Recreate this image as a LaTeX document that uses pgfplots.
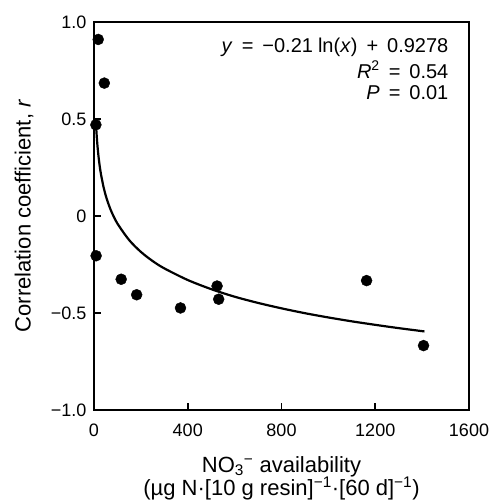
\documentclass[border=0pt]{standalone}
\usepackage{fontspec}
\setmainfont{Liberation Sans}
\usepackage{pgfplots}
\pgfplotsset{compat=1.18}

\begin{document}
\begin{tikzpicture}
% page frame: matches the reference's 490x502 canvas
\useasboundingbox (-94pt,-92pt) rectangle (396pt,410pt);
\begin{axis}[
  scale only axis,
  width=375pt,
  height=388pt,
  xmin=0, xmax=1600,
  ymin=-1, ymax=1,
  xtick={0,400,800,1200,1600},
  xticklabels={0,400,800,1200,1600},
  ytick={-1,-0.5,0,0.5,1},
  yticklabels={−1.0,−0.5,0,0.5,1.0},
  tick align=inside,
  xtick pos=bottom,
  ytick pos=left,
  major tick length=7pt,
  axis line style={line width=1.6pt},
  every tick/.style={line width=1.6pt, black},
  ticklabel style={font=\fontsize{18}{20}\selectfont},
  xticklabel style={yshift=-10pt},
  yticklabel style={xshift=-4pt},
  xlabel={NO\textsubscript{3}\textsuperscript{−} availability\\(µg N·[10 g resin]\textsuperscript{−1}·[60 d]\textsuperscript{−1})},
  xlabel style={font=\fontsize{22}{23}\selectfont, align=center, inner sep=0pt,
    at={(axis description cs:0.5,-0.1186)}, anchor=north},
  ylabel={Correlation coefficient, \textit{r}},
  ylabel style={font=\fontsize{22}{24}\selectfont, inner sep=0pt,
    at={(axis description cs:-0.1867,0.5)}, anchor=center},
  clip=false,
]

% fitted curve y = -0.21 ln(x) + 0.9278
\addplot[black, line width=2.2pt, smooth] coordinates {
  (10,0.444) (12,0.406) (15,0.359) (20,0.299) (25,0.252) (30,0.214)
  (40,0.153) (50,0.106) (60,0.068) (75,0.021) (100,-0.039) (150,-0.124)
  (200,-0.185) (250,-0.232) (300,-0.270) (400,-0.330) (500,-0.377)
  (600,-0.416) (700,-0.448) (800,-0.476) (900,-0.501) (1000,-0.523)
  (1100,-0.543) (1200,-0.561) (1300,-0.578) (1410,-0.595)
};

% observations
\addplot[only marks, mark=*, mark size=5.5pt, black] coordinates {
  (8,0.47) (18,0.91) (44,0.685) (9,-0.205) (116,-0.326) (182,-0.406)
  (369,-0.474) (525,-0.361) (532,-0.429) (1163,-0.333) (1406,-0.668)
};

% regression statistics
\node[anchor=east, font=\fontsize{20}{22}\selectfont] at (axis cs:1527,0.868)
  {\textit{y}\hspace{0.45em}=\hspace{0.45em}−0.21\hspace{0.25em}ln(\textit{x})\hspace{0.45em}+\hspace{0.45em}0.9278};
\node[anchor=east, font=\fontsize{20}{22}\selectfont] at (axis cs:1527,0.753)
  {\textit{R}\textsuperscript{2}\hspace{0.45em}=\hspace{0.45em}0.54};
\node[anchor=east, font=\fontsize{20}{22}\selectfont] at (axis cs:1527,0.638)
  {\textit{P}\hspace{0.45em}=\hspace{0.45em}0.01};

\end{axis}
\end{tikzpicture}
\end{document}
